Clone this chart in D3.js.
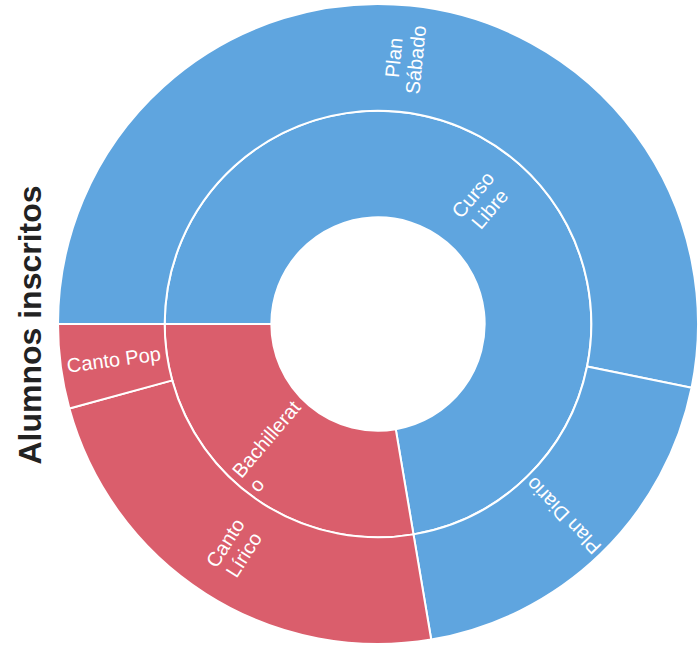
<!DOCTYPE html>
<html>
<head>
<meta charset="utf-8">
<script src="https://cdn.jsdelivr.net/npm/d3@7"></script>
<style>
  html, body { margin: 0; padding: 0; background: #fff; }
  svg { display: block; }
</style>
</head>
<body>
<script>
// ---- data ----
const title = "Alumnos inscritos";
const groups = ["Curso Libre", "Bachillerato"];
const leafNames = ["Plan Sábado", "Plan Diario", "Canto Lírico", "Canto Pop"];
const leafParents = ["Curso Libre", "Curso Libre", "Bachillerato", "Bachillerato"];
const leafValues = [125, 45, 55, 10];
const labelLines = {
  "Curso Libre": ["Curso", "Libre"],
  "Bachillerato": ["Bachillerat", "o"],
  "Plan Sábado": ["Plan", "Sábado"],
  "Plan Diario": ["Plan Diario"],
  "Canto Lírico": ["Canto", "Lírico"],
  "Canto Pop": ["Canto Pop"]
};

// ---- layout ----
const W = 698, H = 658;
const cx = 378, cy = 324, R = 320;
const startOffset = 1.5 * Math.PI;
const color = d3.scaleOrdinal().domain(groups).range(["#5fa5df", "#da5e6c"]);

const rows = [{ id: "root", parent: null }]
  .concat(groups.map(g => ({ id: g, parent: "root" })))
  .concat(leafNames.map((n, i) => ({ id: n, parent: leafParents[i], value: leafValues[i] })));

const root = d3.stratify().id(d => d.id).parentId(d => d.parent)(rows)
  .sum(d => d.value || 0)
  .sort((a, b) => b.value - a.value);

d3.partition().size([2 * Math.PI, 3])(root);
const rScale = d3.scaleLinear().domain([0, 3]).range([0, R]);

const arc = d3.arc()
  .startAngle(d => d.x0 + startOffset)
  .endAngle(d => d.x1 + startOffset)
  .innerRadius(d => rScale(d.y0))
  .outerRadius(d => rScale(d.y1));

const svg = d3.select("body").append("svg").attr("width", W).attr("height", H);

svg.append("text")
  .attr("transform", `translate(41,325) rotate(-90)`)
  .attr("text-anchor", "middle")
  .style("font-family", "'Liberation Sans', Arial, sans-serif")
  .style("font-weight", "bold")
  .style("font-size", "32px")
  .style("fill", "#222")
  .text(title);

const g = svg.append("g").attr("transform", `translate(${cx},${cy})`);
const nodes = root.descendants().filter(d => d.depth > 0);
const groupOf = d => d.depth === 1 ? d.id : d.parent.id;

g.selectAll("path").data(nodes).join("path")
  .attr("d", arc)
  .attr("fill", d => color(groupOf(d)))
  .attr("stroke", "#fff")
  .attr("stroke-width", 2);

const labels = g.selectAll("text.lbl").data(nodes).join("text")
  .attr("class", "lbl")
  .attr("transform", d => {
    const a = (d.x0 + d.x1) / 2;
    const deg = (a + startOffset) * 180 / Math.PI;
    const r = rScale((d.y0 + d.y1) / 2);
    return `rotate(${deg - 90}) translate(${r},0) rotate(${a < Math.PI ? 0 : 180})`;
  })
  .attr("text-anchor", "middle")
  .style("font-family", "'Liberation Sans', Arial, sans-serif")
  .style("font-size", "20px")
  .style("fill", "#fff");

labels.each(function(d) {
  const lines = labelLines[d.id] || [d.id];
  const n = lines.length;
  const t = d3.select(this);
  const spans = lines.map((ln, i) => t.append("tspan")
    .attr("x", 0)
    .attr("dy", i === 0 ? `${0.35 - (n - 1) * 0.55}em` : "1.1em")
    .text(ln));
  // a word broken across lines continues from the start of the previous line
  const joined = lines.join("");
  if (n > 1 && joined === d.id) {
    const w0 = spans[0].node().getComputedTextLength();
    for (let i = 1; i < n; i++) {
      const wi = spans[i].node().getComputedTextLength();
      spans[i].attr("x", -w0 / 2 + wi / 2);
    }
  }
});
</script>
</body>
</html>
